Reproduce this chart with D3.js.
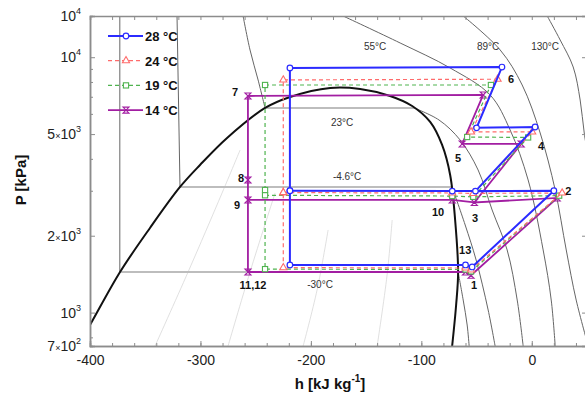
<!DOCTYPE html>
<html>
<head>
<meta charset="utf-8">
<script src="https://cdn.jsdelivr.net/npm/d3@7"></script>
<style>
body { margin: 0; background: #fff; }
svg { font-family: "Liberation Sans", Arial, sans-serif; }
</style>
</head>
<body>
<div id="chart"></div>
<script>
// ---- axis data ----
const hDomain = [-400, 50]
const pDomain = [740, 14500]
const hTicks = [-400, -300, -200, -100, 0]
const pLabelVals = [14500, 10000, 5000, 2000, 1000, 740]
const pLabelMant = ["", "", "5×", "2×", "", "7×"]
const pLabelExp = ["4", "4", "3", "3", "3", "2"]
const pMinor = [9000, 8000, 7000, 6000, 4000, 3000, 800]

// ---- cycle states (h kJ/kg, P kPa), order: 1,2,3,4,5,6,7,8,9,10,12,13 ----
const series = ["28 °C", "24 °C", "19 °C", "14 °C"]
const stateNames = ["1", "2", "3", "4", "5", "6", "7", "8", "9", "10", "12", "13"]
const h28 = [-54, 20, -51, 3, -50, -27, -219, -219, -219, -72, -219, -60]
const p28 = [1509, 3000, 2990, 5330, 5290, 9150, 9080, 3000, 3000, 2990, 1537, 1537]
const h24 = [-55, 27.5, -53, 0.4, -55, -31, -225, -225, -225, -72, -225, -60]
const p24 = [1470, 2940, 2930, 5100, 5100, 8200, 8150, 2950, 2950, 2940, 1500, 1495]
const h19 = [-55, 24.8, -53, -3.3, -58.5, -37, -241.5, -241.5, -241.5, -72, -241.5, -60]
const p19 = [1450, 2870, 2840, 4850, 4870, 7785, 7785, 3020, 2880, 2860, 1480, 1475]
const h14 = [-55, 23, -52, -9.6, -63, -44, -257, -257, -257, -72, -257, -60]
const p14 = [1400, 2811, 2700, 4575, 4575, 7115, 7050, 3306, 2761, 2761, 1442, 1442]
const loopOrder = ["1", "2", "3", "4", "5", "6", "7", "8", "9", "12", "13", "1"]
const branchOrder = ["9", "10", "3"]

// ---- saturation dome ----
const domeH = [-411, -400, -372.8, -345.7, -318.5, -300.4, -275.9, -241.5, -218.8, -182.6, -155.4, -128.3, -108.3, -92, -81.2, -73.9, -69.4, -66.7, -68.5, -72.1]
const domeP = [740, 894, 1442, 2145, 3104, 3784, 4827, 6328, 6987, 7577, 7509, 7051, 6442, 5578, 4533, 3459, 2305, 1442, 1071, 740]

// ---- isotherms: liquid / two-phase / vapour parts ----
const isoLiquid = [
    [[-373, 14500], [-373, 1442]],
    [[-321.2, 14500], [-318.5, 3100]],
    [[-261.4, 14500], [-255.1, 10673], [-247.8, 8144], [-241.5, 6328]]
]
const isoTwoPhase = [
    [[-373, 1442], [-66.7, 1442]],
    [[-318.5, 3100], [-72.1, 3100]],
    [[-241.5, 6328], [-106.5, 6328]]
]
const isoVapour = [
    [[-66.7, 1442], [-62.1, 1120], [-58.5, 894], [-56.7, 740]],
    [[-72.1, 3100], [-60.3, 2203], [-50.4, 1607], [-39.5, 1024], [-33.2, 740]],
    [[-106.5, 6328], [-84, 5678], [-64.9, 4742], [-48.6, 3618], [-35.9, 2522], [-22.3, 1759], [-13.2, 1120], [-7.8, 740]],
    [[-170.8, 14500], [-119.2, 11370], [-73.9, 9074], [-37.7, 7115], [-19.6, 5188], [-3.3, 3306], [10.3, 1759], [17.6, 1120], [21.2, 740]],
    [[-62.1, 14500], [-28.6, 10673], [-8.7, 7785], [7.6, 5050], [21.2, 3021], [31.2, 1759], [40.2, 1120], [51.1, 740]],
    [[14.0, 14500], [25.7, 11680], [37.5, 9155], [43.8, 6800], [47.5, 5050], [52.9, 3618]]
]
// faint lines inside the dome
const faintLines = [
    [[-341.1, 740], [-311.2, 1442], [-280.4, 2941], [-264.1, 4331]],
    [[-275, 740], [-255.1, 1442], [-232.4, 2941]],
    [[-207, 740], [-194.4, 1226], [-184.4, 2107]],
    [[-140, 740], [-131, 1404], [-126.4, 2305]]
]
const isoLabels = ["55°C", "89°C", "130°C", "23°C", "-4.6°C", "-30°C"]
const isoLabelH = [-141.8, -39.5, 12.1, -171.7, -167.2, -191.7]
const isoLabelP = [10965, 10965, 10965, 5527, 3396, 1283]
const stLabels = ["7", "8", "9", "11,12", "10", "3", "13", "1", "2", "4", "5", "6"]
const stLabelH = [-268.7, -263.2, -266.8, -252.4, -84.8, -51.3, -60.3, -52.2, 33, 8.5, -66.7, -18.7]
const stLabelP = [7308, 3366, 2639, 1283, 2477, 2347, 1759, 1283, 2994, 4493, 4031, 8218]

let width = 585
let height = 399
let svg = d3.select("#chart")
    .append("svg")
    .attr("width", width)
    .attr("height", height)

let x = d3.scaleLinear().domain(hDomain).range([90, 587])
let y = d3.scaleLog().domain(pDomain).range([346, 16])
let line = d3.line().x(d => x(d[0])).y(d => y(d[1]))
let smooth = d3.line().x(d => x(d[0])).y(d => y(d[1])).curve(d3.curveCatmullRom)

svg.append("clipPath").attr("id", "plot")
    .append("rect").attr("x", 90).attr("y", 16).attr("width", 497).attr("height", 330)

let bg = svg.append("g").attr("clip-path", "url(#plot)")
bg.selectAll(".faint").data(faintLines).enter().append("path")
    .attr("d", smooth).attr("fill", "none").attr("stroke", "#d8d8d8").attr("stroke-width", 0.8)
bg.selectAll(".tp").data(isoTwoPhase).enter().append("path")
    .attr("d", line).attr("fill", "none").attr("stroke", "#bdbdbd").attr("stroke-width", 2)
bg.selectAll(".liq").data(isoLiquid.concat(isoVapour)).enter().append("path")
    .attr("d", smooth).attr("fill", "none").attr("stroke", "#666").attr("stroke-width", 1)
bg.append("path")
    .attr("d", smooth(domeH.map((h, i) => [h, domeP[i]])))
    .attr("fill", "none").attr("stroke", "#111").attr("stroke-width", 2)

// isotherm labels
svg.append("g").selectAll("text").data(isoLabels).enter().append("text")
    .attr("x", (d, i) => x(isoLabelH[i]))
    .attr("y", (d, i) => y(isoLabelP[i]))
    .attr("text-anchor", "middle").attr("dominant-baseline", "central")
    .attr("font-size", 10).attr("fill", "#333")
    .text(d => d)

// cycle
let colors = ["#2b2bff", "#ff6b6b", "#4fb34f", "#a21ea2"]
let dashes = [null, "4,3", "4,3", null]
let widths = [2, 1.2, 1.2, 1.8]
let hs = [h28, h24, h19, h14]
let ps = [p28, p24, p19, p14]
let hourglass = "M-3,-3L3,-3L-3,3L3,3Z"
function marker(g, i, cx, cy) {
    if (i == 0) {
        g.append("circle").attr("cx", cx).attr("cy", cy).attr("r", 2.8)
            .attr("fill", "#fff").attr("stroke", colors[i]).attr("stroke-width", 1.2)
    } else if (i == 1) {
        g.append("path").attr("d", d3.symbol(d3.symbolTriangle, 22)())
            .attr("transform", `translate(${cx},${cy})`)
            .attr("fill", "#fff").attr("stroke", colors[i]).attr("stroke-width", 1.1)
    } else if (i == 2) {
        g.append("rect").attr("x", cx - 2.6).attr("y", cy - 2.6).attr("width", 5.2).attr("height", 5.2)
            .attr("fill", "#fff").attr("stroke", colors[i]).attr("stroke-width", 1.1)
    } else {
        g.append("path").attr("d", hourglass)
            .attr("transform", `translate(${cx},${cy})`)
            .attr("fill", "none").attr("stroke", colors[i]).attr("stroke-width", 1.1)
    }
}
let cycleG = svg.append("g")
for (let k = series.length - 1; k >= 0; k--) {
    let pt = name => {
        let j = stateNames.indexOf(name)
        return [hs[k][j], ps[k][j]]
    }
    let g = cycleG.append("g")
    ;[loopOrder, branchOrder].forEach(order => {
        g.append("path")
            .attr("d", line(order.map(pt)))
            .attr("fill", "none")
            .attr("stroke", colors[k])
            .attr("stroke-width", widths[k])
            .attr("stroke-dasharray", dashes[k])
    })
    stateNames.forEach((s, j) => marker(g, k, x(hs[k][j]), y(ps[k][j])))
}

// state labels
svg.append("g").selectAll("text").data(stLabels).enter().append("text")
    .attr("x", (d, i) => x(stLabelH[i]))
    .attr("y", (d, i) => y(stLabelP[i]))
    .attr("text-anchor", "middle").attr("dominant-baseline", "central")
    .attr("font-size", 11).attr("font-weight", "bold").attr("fill", "#111")
    .text(d => d)

// axes
let axisColor = "#8c8c8c"
function styleAxis(g) {
    g.selectAll("path.domain").attr("stroke", axisColor).attr("stroke-width", 1.5)
    g.selectAll("line").attr("stroke", axisColor)
    g.selectAll("text").attr("font-size", 14).attr("fill", "#222").attr("font-family", "Liberation Sans, Arial, sans-serif")
}
let hMinor = d3.range(-400, 51, 20)
svg.append("g").attr("transform", "translate(0,346)")
    .call(d3.axisBottom(x).tickValues(hMinor).tickSize(-3).tickFormat(""))
    .call(styleAxis)
svg.append("g").attr("transform", "translate(0,346)")
    .call(d3.axisBottom(x).tickValues(hTicks).tickSize(-5).tickPadding(9).tickFormat(d => String(d)))
    .call(styleAxis)
svg.append("g").attr("transform", "translate(0,16)")
    .call(d3.axisTop(x).tickValues(hMinor).tickSize(-4).tickFormat(""))
    .call(styleAxis)
svg.append("g").attr("transform", "translate(90,0)")
    .call(d3.axisLeft(y).tickValues(pMinor).tickSize(-3).tickFormat(""))
    .call(styleAxis)
svg.append("g").attr("transform", "translate(90,0)")
    .call(d3.axisLeft(y).tickValues(pLabelVals.slice(1, 5)).tickSize(-5).tickFormat(""))
    .call(styleAxis)
svg.append("g").attr("transform", "translate(587,0)")
    .call(d3.axisRight(y).tickValues(pLabelVals.slice(1, 5)).tickSize(-5).tickFormat(""))
    .call(styleAxis)

// y tick labels with superscripts
let yl = svg.append("g").selectAll("text").data(pLabelVals).enter().append("text")
    .attr("x", 81)
    .attr("y", d => y(d) + 5)
    .attr("text-anchor", "end")
    .attr("font-size", 14).attr("fill", "#222")
yl.each(function (d, i) {
    let t = d3.select(this)
    if (pLabelMant[i]) {
        t.append("tspan").text(pLabelMant[i][0])
        t.append("tspan").attr("font-size", 9).text("×")
    }
    t.append("tspan").text("10")
    t.append("tspan").attr("font-size", 9).attr("dy", -7).text(pLabelExp[i])
})

// axis titles
svg.append("text")
    .attr("transform", "translate(26,180) rotate(-90)")
    .attr("text-anchor", "middle")
    .attr("font-size", 15).attr("font-weight", "bold").attr("fill", "#111")
    .text("P [kPa]")
let ht = svg.append("text")
    .attr("x", 330).attr("y", 389)
    .attr("text-anchor", "middle")
    .attr("font-size", 15).attr("font-weight", "bold").attr("fill", "#111")
ht.append("tspan").text("h [kJ kg")
ht.append("tspan").attr("font-size", 10).attr("dy", -7).text("-1")
ht.append("tspan").attr("dy", 7).text("]")

// legend
let legend = svg.append("g")
series.forEach((s, i) => {
    let ly = 36 + i * 24.7
    legend.append("line")
        .attr("x1", 108).attr("x2", 143).attr("y1", ly).attr("y2", ly)
        .attr("stroke", colors[i]).attr("stroke-width", widths[i])
        .attr("stroke-dasharray", dashes[i])
    marker(legend, i, 126, ly)
    legend.append("text")
        .attr("x", 145).attr("y", ly + 5)
        .attr("font-size", 13).attr("font-weight", "bold").attr("fill", "#111")
        .text(s)
})
</script>
</body>
</html>
